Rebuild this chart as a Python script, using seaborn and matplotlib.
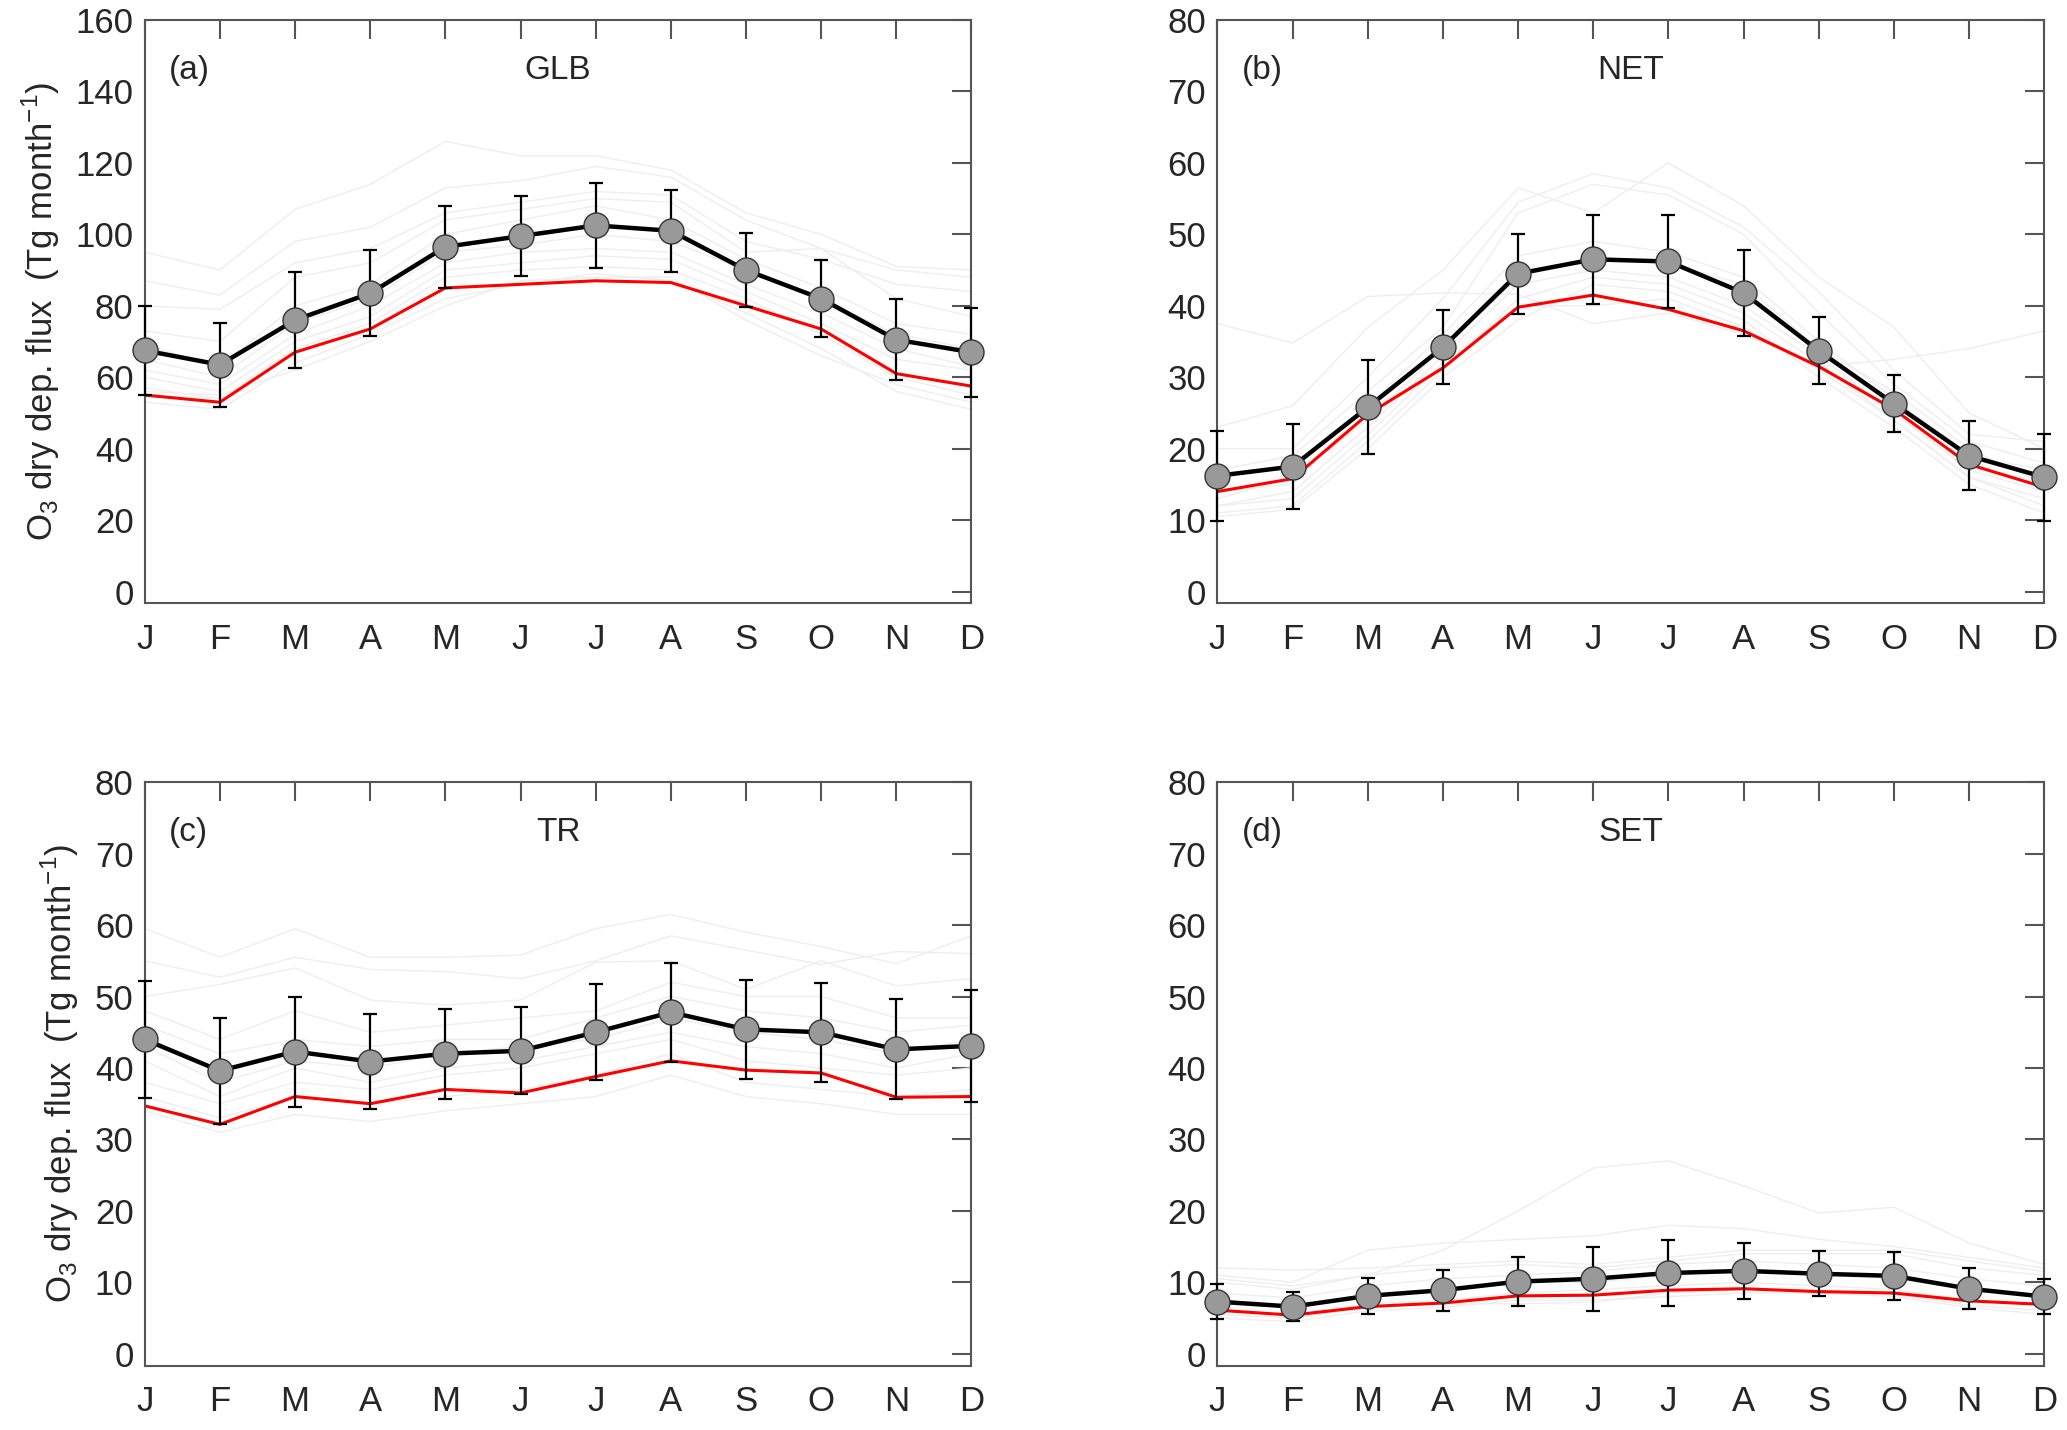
import numpy as np
import pandas as pd
import matplotlib
matplotlib.use("Agg")
import matplotlib.pyplot as plt
import seaborn as sns

months = ["J", "F", "M", "A", "M", "J", "J", "A", "S", "O", "N", "D"]
regions = ["GLB", "NET", "TR", "SET"]
panel_tags = ["(a)", "(b)", "(c)", "(d)"]

# multi-model mean and standard deviation
mean_glb = [67.5, 63.5, 76, 83.5, 96.5, 99.5, 102.5, 101, 90, 82, 70.5, 67]
std_glb = [12.5, 11.8, 13.5, 12, 11.5, 11.3, 11.8, 11.5, 10.3, 10.8, 11.3, 12.5]
mean_net = [16.2, 17.5, 25.8, 34.2, 44.5, 46.5, 46.2, 41.8, 33.7, 26.3, 19, 16]
std_net = [6.3, 6, 6.6, 5.2, 5.6, 6.2, 6.5, 6, 4.7, 4, 4.85, 6.1]
mean_tr = [44, 39.6, 42.3, 40.9, 42, 42.4, 45, 47.8, 45.4, 45, 42.6, 43.1]
std_tr = [8.2, 7.4, 7.7, 6.6, 6.3, 6.1, 6.7, 6.9, 6.9, 6.9, 7, 7.8]
mean_set = [7.3, 6.6, 8.1, 8.9, 10.1, 10.5, 11.3, 11.6, 11.2, 10.9, 9.1, 8]
std_set = [2.4, 2, 2.5, 2.85, 3.4, 4.5, 4.65, 3.9, 3.15, 3.35, 2.85, 2.5]

# red reference line
red_glb = [55, 53, 67, 73.5, 85, 86, 87, 86.5, 80, 73.5, 61, 57.5]
red_net = [14, 15.8, 24.8, 31.3, 39.8, 41.5, 39.5, 36.5, 31.5, 25.5, 17.8, 14.6]
red_tr = [34.7, 32.1, 36, 35, 37, 36.5, 38.8, 41, 39.7, 39.3, 35.9, 36]
red_set = [6.1, 5.4, 6.6, 7.1, 8.1, 8.2, 8.9, 9.1, 8.7, 8.5, 7.4, 6.9]

# individual models (faint grey)
models_glb = [
    [95, 90, 107, 114, 126, 122, 122, 118, 106, 100, 91, 90],
    [87, 83, 98, 102, 113, 115, 119, 116, 104, 96, 90, 88],
    [80, 79, 92, 96, 106, 109, 112, 111, 98, 93, 86, 84],
    [73, 70, 88, 92, 104, 107, 110, 109, 95, 96, 82, 77],
    [69, 63, 80, 86, 100, 104, 108, 104, 93, 85, 75, 72],
    [65, 60, 75, 82, 95, 97, 100, 98, 90, 82, 72, 68],
    [62, 58, 72, 80, 92, 95, 96, 95, 86, 78, 68, 63],
    [60, 56, 70, 77, 90, 92, 94, 93, 84, 75, 65, 62],
    [57, 54, 68, 75, 88, 90, 91, 90, 82, 72, 60, 55],
    [53, 51, 64, 72, 82, 86, 89, 87, 78, 68, 56, 51],
    [56, 55, 62, 70, 80, 87, 88, 88, 76, 66, 58, 53],
]
models_net = [
    [37.5, 34.8, 41.3, 41.8, 41.6, 37.5, 39, 36, 31.5, 32.5, 34, 36.5],
    [23, 26, 37, 45, 56.5, 53, 60, 54, 44, 37, 25, 20],
    [20, 20, 30, 41, 54.5, 58.5, 56.5, 51, 42, 31, 22, 21],
    [17, 19, 28, 37, 53, 57, 55.5, 50, 39, 29, 21, 18],
    [14, 15, 26, 36, 47, 49, 47.5, 44, 35, 27, 19, 17],
    [12, 14, 23, 33, 43, 45, 44, 40, 33, 25, 17, 14],
    [11, 12, 21, 31, 41, 44, 43, 39, 32, 24, 16, 12],
    [10.5, 11.5, 20, 30, 38, 43, 42, 38, 30, 23, 15, 11],
    [12, 13, 22, 32, 40, 40, 41, 37, 31, 24, 16, 13],
    [13, 16, 24, 34, 44, 47, 46, 43, 34, 28, 20, 15],
]
models_tr = [
    [59.5, 55.5, 59.5, 55.5, 55.5, 55.8, 59.5, 61.5, 59, 57, 54.6, 58.5],
    [55, 52.7, 55.5, 53.8, 53.5, 52.5, 55, 58.5, 56.5, 54.5, 56.3, 56],
    [50, 51.7, 54, 49.5, 48.8, 49.5, 54.8, 55, 51, 55, 51.5, 52.5],
    [48, 44, 48, 45, 46, 47, 48, 52, 50, 50, 47, 47],
    [46, 42, 44, 43, 44, 44, 47, 50, 48, 47, 45, 46],
    [43, 38, 41, 40, 42, 43, 44, 47, 45, 44, 42, 44],
    [41, 36, 40, 38, 40, 41, 43, 45, 43, 42, 40, 42],
    [38, 35, 38, 37, 39, 40, 42, 44, 41, 40, 39, 40],
    [36, 33, 36, 35, 36, 37, 39, 42, 38, 37, 36, 37],
    [34, 31, 33.5, 32.5, 34, 35, 36, 39, 36, 35, 33.5, 33.5],
]
models_set = [
    [10, 9, 11, 14.5, 20, 26, 27, 23.5, 19.7, 20.5, 15.5, 12.5],
    [11, 10, 14.5, 15.5, 16, 16.5, 18, 17.5, 16, 15, 13.5, 12],
    [12, 11.7, 12, 12.5, 13, 12.5, 13.5, 14.5, 14.5, 14.5, 13, 11.5],
    [10.5, 9.5, 11, 12, 12.5, 12, 13, 14, 14, 14, 12, 11],
    [8.5, 7.8, 9.5, 10.5, 11, 11.5, 12.5, 13, 12.5, 12, 10.5, 9.5],
    [7, 6.5, 8, 9, 10, 10, 11, 11.5, 11, 10.5, 9, 8],
    [6, 5.5, 7, 7.5, 8.5, 9, 9.5, 10, 9.5, 9, 7.5, 7],
    [5, 4.5, 6, 6.5, 7.5, 7.5, 8, 8.5, 8.5, 8, 6.5, 5.5],
    [5.5, 5, 6.5, 7, 7, 7.2, 8.5, 9, 8.8, 8.3, 6.8, 6],
]

means = [mean_glb, mean_net, mean_tr, mean_set]
stds = [std_glb, std_net, std_tr, std_set]
reds = [red_glb, red_net, red_tr, red_set]
models = [models_glb, models_net, models_tr, models_set]
ytops = [160, 80, 80, 80]
ysteps = [20, 10, 10, 10]

sns.set_style("white")
plt.rcParams['font.family'] = ['Liberation Sans Narrow', 'Liberation Sans', 'DejaVu Sans']
plt.rcParams['mathtext.fontset'] = 'custom'
plt.rcParams['mathtext.rm'] = 'Liberation Sans'

fig = plt.figure(figsize=(20.67, 14.30), dpi=100)

# [left, bottom, width, height] in figure fractions
positions = [
    [0.070, 0.578, 0.400, 0.408],
    [0.589, 0.578, 0.400, 0.408],
    [0.070, 0.045, 0.400, 0.408],
    [0.589, 0.045, 0.400, 0.408],
]

x = np.arange(12)
for i in range(4):
    ax = fig.add_axes(positions[i])

    rows = []
    for m, vals in enumerate(models[i]):
        for k, v in enumerate(vals):
            rows.append({"model": m, "month": k, "flux": v})
    df = pd.DataFrame(rows)
    sns.lineplot(data=df, x="month", y="flux", units="model", estimator=None,
                 color="#eeeeee", lw=1.0, ax=ax, legend=False)

    sns.lineplot(x=x, y=reds[i], color="red", lw=2.2, ax=ax)

    ax.errorbar(x, means[i], yerr=stds[i], fmt="none", ecolor="black",
                elinewidth=1.6, capsize=5, capthick=1.6, zorder=4, clip_on=False)
    sns.lineplot(x=x, y=means[i], color="black", lw=3.2, marker="o",
                 markersize=18, markerfacecolor="#999999", markeredgecolor="#333333",
                 markeredgewidth=1.0, ax=ax, zorder=5)
    ax.lines[-1].set_clip_on(False)

    top = ytops[i]
    ax.set_xlim(0, 11)
    ax.set_ylim(-top / 48.0, top)
    ax.set_xticks(x)
    ax.set_xticklabels(months)
    ax.set_yticks(np.arange(0, top + 1, ysteps[i]))
    ax.tick_params(axis="both", direction="in", length=14, width=1.5,
                   color="#555555", labelsize=25, top=True, right=True)
    ax.tick_params(axis="x", pad=14)
    ax.tick_params(axis="y", pad=8)
    for sp in ax.spines.values():
        sp.set_color("#555555")
        sp.set_linewidth(1.5)

    ax.set_xlabel("")
    if i % 2 == 0:
        ax.set_ylabel(r"O$_3$ dry dep. flux  (Tg month$^{-1}$)", fontsize=25, labelpad=10)
    else:
        ax.set_ylabel("")

    ax.text(0.029, 0.914, panel_tags[i], transform=ax.transAxes, fontsize=24,
            ha="left", va="center")
    ax.text(0.5, 0.914, regions[i], transform=ax.transAxes, fontsize=24,
            ha="center", va="center")

fig.savefig("out.png", dpi=100)
